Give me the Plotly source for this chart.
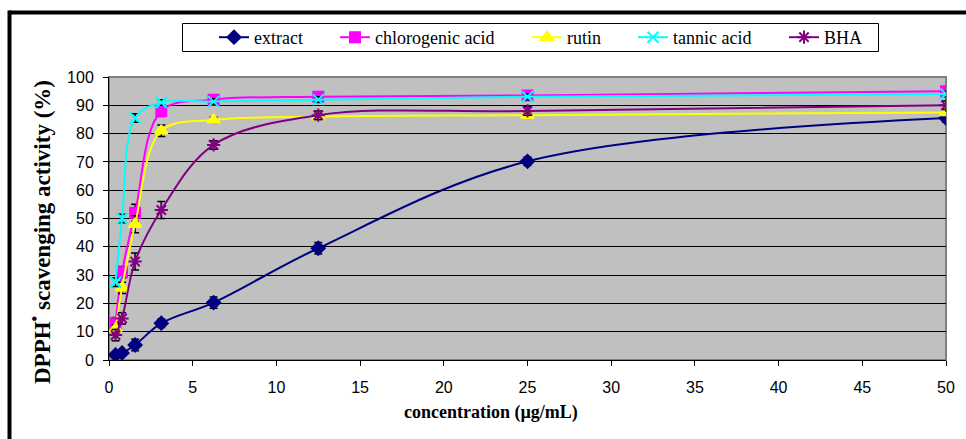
import plotly.graph_objects as go

# Concentrations tested (µg/mL)
conc = [0.39, 0.78, 1.56, 3.125, 6.25, 12.5, 25, 50]

# DPPH radical scavenging activity (%) and standard deviations
extract = [1.8, 2.5, 5.3, 13.0, 20.3, 39.5, 70.2, 85.5]
extract_sd = [1.0, 1.0, 2.0, 1.5, 2.0, 2.0, 1.5, 1.5]

chlorogenic = [13.0, 31.0, 52.0, 88.0, 92.0, 93.0, 93.5, 95.0]
chlorogenic_sd = [2.0, 2.0, 3.0, 2.0, 1.0, 1.0, 1.5, 1.5]

rutin = [11.0, 25.5, 48.0, 81.0, 84.8, 86.0, 86.5, 87.5]
rutin_sd = [1.5, 2.0, 3.0, 2.0, 1.0, 1.0, 1.0, 1.0]

tannic = [27.5, 50.0, 85.5, 91.0, 91.3, 92.0, 93.0, 94.0]
tannic_sd = [1.5, 1.5, 1.5, 1.0, 1.0, 1.0, 1.0, 1.0]

bha = [8.8, 14.7, 34.8, 53.0, 76.0, 86.5, 88.0, 90.0]
bha_sd = [2.0, 2.0, 3.0, 3.0, 1.5, 1.5, 1.5, 1.5]

series = [
    ("extract", extract, extract_sd, "#000080", "diamond", 10),
    ("chlorogenic acid", chlorogenic, chlorogenic_sd, "#FF00FF", "square", 10),
    ("rutin", rutin, rutin_sd, "#FFFF00", "triangle-up", 11),
    ("tannic acid", tannic, tannic_sd, "#00FFFF", "x-thin-open", 11),
    ("BHA", bha, bha_sd, "#800080", "asterisk-open", 11),
]

W, H = 966, 439
L, R, T, B = 109, 20, 77, 79

# helpers to place decorations in pixel terms
pw, ph = W - L - R, H - T - B
def px_x(p):
    return (p - L) / pw
def px_y(p):
    return (H - B - p) / ph

# left edge (px) of each legend entry's label
legend_text_x = [254, 375, 567, 673, 824]
legend_names = ["legend", "legend2", "legend3", "legend4", "legend5"]

fig = go.Figure()
for (name, ys, sd, color, symbol, size), lg in zip(series, legend_names):
    fig.add_trace(go.Scatter(
        x=conc, y=ys, name=name, mode="lines+markers", legend=lg,
        line=dict(color=color, width=2, shape="spline", smoothing=1.0),
        marker=dict(symbol=symbol, size=size, color=color,
                    line=dict(color=color, width=2)),
        error_y=dict(type="data", array=sd, visible=True,
                     color="#000000", thickness=1.5, width=4),
    ))

legend_font = dict(family="Liberation Serif", size=18, color="#000000")
legends = {}
for lg, tx in zip(legend_names, legend_text_x):
    legends[lg] = dict(
        orientation="h", x=px_x(tx - 40), y=px_y(37.5),
        xanchor="left", yanchor="middle", xref="paper", yref="paper",
        borderwidth=0, bgcolor="rgba(0,0,0,0)", font=legend_font,
    )

shapes = [
    # outer frame (top and left edges)
    dict(type="line", xref="paper", yref="paper",
         x0=px_x(9.5), x1=px_x(W + 5), y0=px_y(12.5), y1=px_y(12.5),
         line=dict(color="#000000", width=4)),
    dict(type="line", xref="paper", yref="paper",
         x0=px_x(9.5), x1=px_x(9.5), y0=px_y(10.5), y1=px_y(H + 5),
         line=dict(color="#000000", width=4)),
    # legend box
    dict(type="rect", xref="paper", yref="paper",
         x0=px_x(182.5), x1=px_x(878.5), y0=px_y(23.5), y1=px_y(51.5),
         line=dict(color="#000000", width=1), fillcolor="#FFFFFF", layer="below"),
    # plot area border
    dict(type="rect", xref="paper", yref="paper", x0=0, x1=1, y0=0, y1=1,
         line=dict(color="#808080", width=2), layer="below"),
]

annotations = [
    dict(text="<b>DPPH<sup>•</sup> scavenging activity (%)</b>", textangle=-90,
         xref="paper", yref="paper", x=px_x(40), y=px_y(232),
         xanchor="center", yanchor="middle", showarrow=False,
         font=dict(family="Liberation Serif", size=23, color="#000000")),
    dict(text="<b>concentration (µg/mL)</b>",
         xref="paper", yref="paper", x=px_x(491), y=px_y(412),
         xanchor="center", yanchor="middle", showarrow=False,
         font=dict(family="Liberation Serif", size=18, color="#000000")),
]

tick_font = dict(family="Liberation Sans", size=16, color="#000000")

fig.update_layout(
    width=W, height=H,
    margin=dict(l=L, r=R, t=T, b=B),
    paper_bgcolor="#FFFFFF",
    plot_bgcolor="#C0C0C0",
    showlegend=True,
    xaxis=dict(
        range=[0, 50], tickmode="array", tickvals=list(range(0, 55, 5)),
        showgrid=False, zeroline=False,
        showline=True, linecolor="#000000", linewidth=1,
        ticks="outside", ticklen=5, tickcolor="#000000",
        ticklabelstandoff=8,
        tickfont=tick_font,
    ),
    yaxis=dict(
        range=[0, 100], tickmode="array", tickvals=list(range(0, 110, 10)),
        showgrid=True, gridcolor="#000000", gridwidth=1,
        zeroline=False,
        showline=True, linecolor="#000000", linewidth=1,
        ticks="outside", ticklen=5, tickcolor="#000000",
        ticklabelstandoff=6,
        tickfont=tick_font,
    ),
    shapes=shapes,
    annotations=annotations,
    **legends,
)

fig.write_html("out.html")
